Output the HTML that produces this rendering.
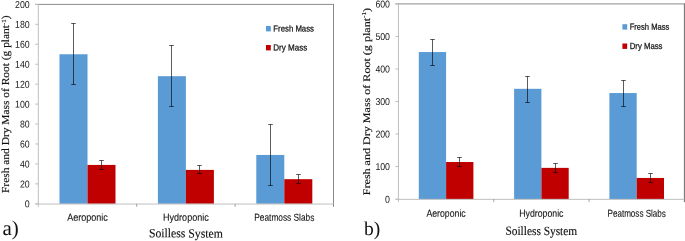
<!DOCTYPE html>
<html><head><meta charset="utf-8"><title>Fresh and Dry Mass of Root</title>
<style>
html,body{margin:0;padding:0;background:#fff;}
body{width:685px;height:241px;overflow:hidden;font-family:"Liberation Sans",sans-serif;}
svg{display:block;position:absolute;left:0;top:0;will-change:transform;}
svg text{text-rendering:geometricPrecision;}
</style></head><body>
<svg width="685" height="241" viewBox="0 0 685 241">
<rect width="685" height="241" fill="#ffffff"/>
<g id="chart-a">
<path d="M35.3 4.4H333.5" fill="none" stroke="#8a8a8a" stroke-width="1"/>
<path d="M333.5 3.9000000000000004V206.8" fill="none" stroke="#8a8a8a" stroke-width="1"/>
<rect x="59.50" y="54.25" width="28.00" height="149.55" fill="#5b9bd5"/>
<rect x="87.50" y="164.92" width="28.00" height="38.88" fill="#c00000"/>
<rect x="157.90" y="76.18" width="28.00" height="127.62" fill="#5b9bd5"/>
<rect x="185.90" y="169.90" width="28.00" height="33.90" fill="#c00000"/>
<rect x="256.30" y="154.95" width="28.00" height="48.85" fill="#5b9bd5"/>
<rect x="284.30" y="179.17" width="28.00" height="24.63" fill="#c00000"/>
<path d="M38.3 4.4V206.8" stroke="#bfbfbf" stroke-width="1" fill="none"/>
<path d="M35.3 204.05H333.5" stroke="#bfbfbf" stroke-width="1" fill="none"/>
<path d="M35.3 203.80H38.3" stroke="#bfbfbf" stroke-width="1"/>
<text x="24.80" y="207.35" transform="rotate(0.2 27.25 207.35)" font-family="Liberation Sans" font-size="10" textLength="4.9" lengthAdjust="spacingAndGlyphs" fill="#161616">0</text>
<path d="M35.3 183.86H38.3" stroke="#bfbfbf" stroke-width="1"/>
<text x="20.00" y="187.41" transform="rotate(0.2 24.85 187.41)" font-family="Liberation Sans" font-size="10" textLength="9.7" lengthAdjust="spacingAndGlyphs" fill="#161616">20</text>
<path d="M35.3 163.92H38.3" stroke="#bfbfbf" stroke-width="1"/>
<text x="20.00" y="167.47" transform="rotate(0.2 24.85 167.47)" font-family="Liberation Sans" font-size="10" textLength="9.7" lengthAdjust="spacingAndGlyphs" fill="#161616">40</text>
<path d="M35.3 143.98H38.3" stroke="#bfbfbf" stroke-width="1"/>
<text x="20.00" y="147.53" transform="rotate(0.2 24.85 147.53)" font-family="Liberation Sans" font-size="10" textLength="9.7" lengthAdjust="spacingAndGlyphs" fill="#161616">60</text>
<path d="M35.3 124.04H38.3" stroke="#bfbfbf" stroke-width="1"/>
<text x="20.00" y="127.59" transform="rotate(0.2 24.85 127.59)" font-family="Liberation Sans" font-size="10" textLength="9.7" lengthAdjust="spacingAndGlyphs" fill="#161616">80</text>
<path d="M35.3 104.10H38.3" stroke="#bfbfbf" stroke-width="1"/>
<text x="15.10" y="107.65" transform="rotate(0.2 22.40 107.65)" font-family="Liberation Sans" font-size="10" textLength="14.6" lengthAdjust="spacingAndGlyphs" fill="#161616">100</text>
<path d="M35.3 84.16H38.3" stroke="#bfbfbf" stroke-width="1"/>
<text x="15.10" y="87.71" transform="rotate(0.2 22.40 87.71)" font-family="Liberation Sans" font-size="10" textLength="14.6" lengthAdjust="spacingAndGlyphs" fill="#161616">120</text>
<path d="M35.3 64.22H38.3" stroke="#bfbfbf" stroke-width="1"/>
<text x="15.10" y="67.77" transform="rotate(0.2 22.40 67.77)" font-family="Liberation Sans" font-size="10" textLength="14.6" lengthAdjust="spacingAndGlyphs" fill="#161616">140</text>
<path d="M35.3 44.28H38.3" stroke="#bfbfbf" stroke-width="1"/>
<text x="15.10" y="47.83" transform="rotate(0.2 22.40 47.83)" font-family="Liberation Sans" font-size="10" textLength="14.6" lengthAdjust="spacingAndGlyphs" fill="#161616">160</text>
<path d="M35.3 24.34H38.3" stroke="#bfbfbf" stroke-width="1"/>
<text x="15.10" y="27.89" transform="rotate(0.2 22.40 27.89)" font-family="Liberation Sans" font-size="10" textLength="14.6" lengthAdjust="spacingAndGlyphs" fill="#161616">180</text>
<path d="M35.3 4.40H38.3" stroke="#bfbfbf" stroke-width="1"/>
<text x="15.10" y="7.95" transform="rotate(0.2 22.40 7.95)" font-family="Liberation Sans" font-size="10" textLength="14.6" lengthAdjust="spacingAndGlyphs" fill="#161616">200</text>
<path d="M136.70 203.8v3" stroke="#8c8c8c" stroke-width="0.8"/>
<path d="M235.10 203.8v3" stroke="#8c8c8c" stroke-width="0.8"/>
<path d="M73.50 23.50V84.50M71.20 23.50h4.6M71.20 84.50h4.6" stroke="#000" stroke-opacity="0.64" stroke-width="1" fill="none"/>
<path d="M101.50 160.50V169.50M99.20 160.50h4.6M99.20 169.50h4.6" stroke="#000" stroke-opacity="0.64" stroke-width="1" fill="none"/>
<path d="M171.50 45.50V106.50M169.20 45.50h4.6M169.20 106.50h4.6" stroke="#000" stroke-opacity="0.64" stroke-width="1" fill="none"/>
<path d="M199.50 165.50V173.50M197.20 165.50h4.6M197.20 173.50h4.6" stroke="#000" stroke-opacity="0.64" stroke-width="1" fill="none"/>
<path d="M270.50 124.50V185.50M268.20 124.50h4.6M268.20 185.50h4.6" stroke="#000" stroke-opacity="0.64" stroke-width="1" fill="none"/>
<path d="M298.50 174.50V183.50M296.20 174.50h4.6M296.20 183.50h4.6" stroke="#000" stroke-opacity="0.64" stroke-width="1" fill="none"/>
<text x="67.20" y="220.80" transform="rotate(0.2 87.50 220.80)" font-family="Liberation Sans" font-size="10.1" textLength="40.6" lengthAdjust="spacingAndGlyphs" fill="#161616" stroke="#161616" stroke-width="0.12">Aeroponic</text>
<text x="163.05" y="220.80" transform="rotate(0.2 185.90 220.80)" font-family="Liberation Sans" font-size="10.1" textLength="45.7" lengthAdjust="spacingAndGlyphs" fill="#161616" stroke="#161616" stroke-width="0.12">Hydroponic</text>
<text x="254.30" y="220.80" transform="rotate(0.2 284.30 220.80)" font-family="Liberation Sans" font-size="10.1" textLength="60" lengthAdjust="spacingAndGlyphs" fill="#161616" stroke="#161616" stroke-width="0.12">Peatmoss Slabs</text>
<text x="148.90" y="237.40" transform="rotate(0.2 185.85 237.40)" font-family="Liberation Serif" font-size="12.5" textLength="73.9" lengthAdjust="spacingAndGlyphs" fill="#111" stroke="#111" stroke-width="0.15">Soilless System</text>
<text transform="translate(9.3 193) rotate(-90)" font-family="Liberation Serif" font-size="10.7" textLength="177.5" lengthAdjust="spacingAndGlyphs" fill="#111" stroke="#111" stroke-width="0.15">Fresh and Dry Mass of Root (g plant<tspan font-size="6.4" dy="-3.6">-1</tspan><tspan dy="3.6">)</tspan></text>
<rect x="266" y="26.0" width="4.8" height="5.4" fill="#5b9bd5"/>
<rect x="266" y="45.0" width="4.8" height="5.4" fill="#c00000"/>
<text x="273.30" y="31.50" transform="rotate(0.2 293.65 31.50)" font-family="Liberation Sans" font-size="8.8" textLength="40.7" lengthAdjust="spacingAndGlyphs" fill="#161616" stroke="#161616" stroke-width="0.25">Fresh Mass</text>
<text x="273.30" y="50.50" transform="rotate(0.2 290.30 50.50)" font-family="Liberation Sans" font-size="8.8" textLength="34" lengthAdjust="spacingAndGlyphs" fill="#161616" stroke="#161616" stroke-width="0.25">Dry Mass</text>
<text x="2.4" y="235" font-family="Liberation Serif" font-size="21" fill="#111">a)</text>
</g>
<g id="chart-b">
<path d="M395.45 3.9H684.4" fill="none" stroke="#8a8a8a" stroke-width="1"/>
<path d="M684.4 3.4V202.1" fill="none" stroke="#6c6c6c" stroke-width="1"/>
<rect x="418.80" y="52.05" width="27.30" height="147.05" fill="#5b9bd5"/>
<rect x="446.10" y="162.01" width="27.30" height="37.09" fill="#c00000"/>
<rect x="514.10" y="88.81" width="27.30" height="110.29" fill="#5b9bd5"/>
<rect x="541.40" y="167.87" width="27.30" height="31.23" fill="#c00000"/>
<rect x="609.40" y="93.04" width="27.30" height="106.06" fill="#5b9bd5"/>
<rect x="636.70" y="177.95" width="27.30" height="21.15" fill="#c00000"/>
<path d="M398.45 3.9V202.1" stroke="#bfbfbf" stroke-width="1" fill="none"/>
<path d="M395.45 199.35H684.4" stroke="#bfbfbf" stroke-width="1" fill="none"/>
<path d="M395.45 199.10H398.45" stroke="#bfbfbf" stroke-width="1"/>
<text x="385.10" y="202.65" transform="rotate(0.2 387.55 202.65)" font-family="Liberation Sans" font-size="10" textLength="4.9" lengthAdjust="spacingAndGlyphs" fill="#161616">0</text>
<path d="M395.45 166.57H398.45" stroke="#bfbfbf" stroke-width="1"/>
<text x="375.40" y="170.12" transform="rotate(0.2 382.70 170.12)" font-family="Liberation Sans" font-size="10" textLength="14.6" lengthAdjust="spacingAndGlyphs" fill="#161616">100</text>
<path d="M395.45 134.03H398.45" stroke="#bfbfbf" stroke-width="1"/>
<text x="375.40" y="137.58" transform="rotate(0.2 382.70 137.58)" font-family="Liberation Sans" font-size="10" textLength="14.6" lengthAdjust="spacingAndGlyphs" fill="#161616">200</text>
<path d="M395.45 101.50H398.45" stroke="#bfbfbf" stroke-width="1"/>
<text x="375.40" y="105.05" transform="rotate(0.2 382.70 105.05)" font-family="Liberation Sans" font-size="10" textLength="14.6" lengthAdjust="spacingAndGlyphs" fill="#161616">300</text>
<path d="M395.45 68.97H398.45" stroke="#bfbfbf" stroke-width="1"/>
<text x="375.40" y="72.52" transform="rotate(0.2 382.70 72.52)" font-family="Liberation Sans" font-size="10" textLength="14.6" lengthAdjust="spacingAndGlyphs" fill="#161616">400</text>
<path d="M395.45 36.43H398.45" stroke="#bfbfbf" stroke-width="1"/>
<text x="375.40" y="39.98" transform="rotate(0.2 382.70 39.98)" font-family="Liberation Sans" font-size="10" textLength="14.6" lengthAdjust="spacingAndGlyphs" fill="#161616">500</text>
<path d="M395.45 3.90H398.45" stroke="#bfbfbf" stroke-width="1"/>
<text x="375.40" y="7.45" transform="rotate(0.2 382.70 7.45)" font-family="Liberation Sans" font-size="10" textLength="14.6" lengthAdjust="spacingAndGlyphs" fill="#161616">600</text>
<path d="M493.75 199.1v3" stroke="#8c8c8c" stroke-width="0.8"/>
<path d="M589.05 199.1v3" stroke="#8c8c8c" stroke-width="0.8"/>
<path d="M432.50 39.50V65.50M430.20 39.50h4.6M430.20 65.50h4.6" stroke="#000" stroke-opacity="0.64" stroke-width="1" fill="none"/>
<path d="M459.50 157.50V166.50M457.20 157.50h4.6M457.20 166.50h4.6" stroke="#000" stroke-opacity="0.64" stroke-width="1" fill="none"/>
<path d="M527.50 76.50V102.50M525.20 76.50h4.6M525.20 102.50h4.6" stroke="#000" stroke-opacity="0.64" stroke-width="1" fill="none"/>
<path d="M555.50 163.50V172.50M553.20 163.50h4.6M553.20 172.50h4.6" stroke="#000" stroke-opacity="0.64" stroke-width="1" fill="none"/>
<path d="M623.50 80.50V106.50M621.20 80.50h4.6M621.20 106.50h4.6" stroke="#000" stroke-opacity="0.64" stroke-width="1" fill="none"/>
<path d="M650.50 173.50V182.50M648.20 173.50h4.6M648.20 182.50h4.6" stroke="#000" stroke-opacity="0.64" stroke-width="1" fill="none"/>
<text x="426.45" y="216.80" transform="rotate(0.2 446.10 216.80)" font-family="Liberation Sans" font-size="10.1" textLength="39.3" lengthAdjust="spacingAndGlyphs" fill="#161616" stroke="#161616" stroke-width="0.12">Aeroponic</text>
<text x="519.30" y="216.80" transform="rotate(0.2 541.40 216.80)" font-family="Liberation Sans" font-size="10.1" textLength="44.2" lengthAdjust="spacingAndGlyphs" fill="#161616" stroke="#161616" stroke-width="0.12">Hydroponic</text>
<text x="607.50" y="216.80" transform="rotate(0.2 636.70 216.80)" font-family="Liberation Sans" font-size="10.1" textLength="58.4" lengthAdjust="spacingAndGlyphs" fill="#161616" stroke="#161616" stroke-width="0.12">Peatmoss Slabs</text>
<text x="505.40" y="235.00" transform="rotate(0.2 541.30 235.00)" font-family="Liberation Serif" font-size="12.5" textLength="71.8" lengthAdjust="spacingAndGlyphs" fill="#111" stroke="#111" stroke-width="0.15">Soilless System</text>
<text transform="translate(369.5 195.2) rotate(-90)" font-family="Liberation Serif" font-size="10.0" textLength="187.3" lengthAdjust="spacingAndGlyphs" fill="#111" stroke="#111" stroke-width="0.15">Fresh and Dry Mass of Root (g plant<tspan font-size="6.0" dy="-3.6">-1</tspan><tspan dy="3.6">)</tspan></text>
<rect x="622.4" y="24.2" width="4.8" height="5.4" fill="#5b9bd5"/>
<rect x="622.4" y="43.5" width="4.8" height="5.4" fill="#c00000"/>
<text x="629.70" y="29.70" transform="rotate(0.2 649.50 29.70)" font-family="Liberation Sans" font-size="8.8" textLength="39.6" lengthAdjust="spacingAndGlyphs" fill="#161616" stroke="#161616" stroke-width="0.25">Fresh Mass</text>
<text x="629.70" y="49.00" transform="rotate(0.2 646.10 49.00)" font-family="Liberation Sans" font-size="8.8" textLength="32.8" lengthAdjust="spacingAndGlyphs" fill="#161616" stroke="#161616" stroke-width="0.25">Dry Mass</text>
<text x="364.0" y="235" font-family="Liberation Serif" font-size="19.6" fill="#111">b)</text>
</g>
</svg>
</body></html>
